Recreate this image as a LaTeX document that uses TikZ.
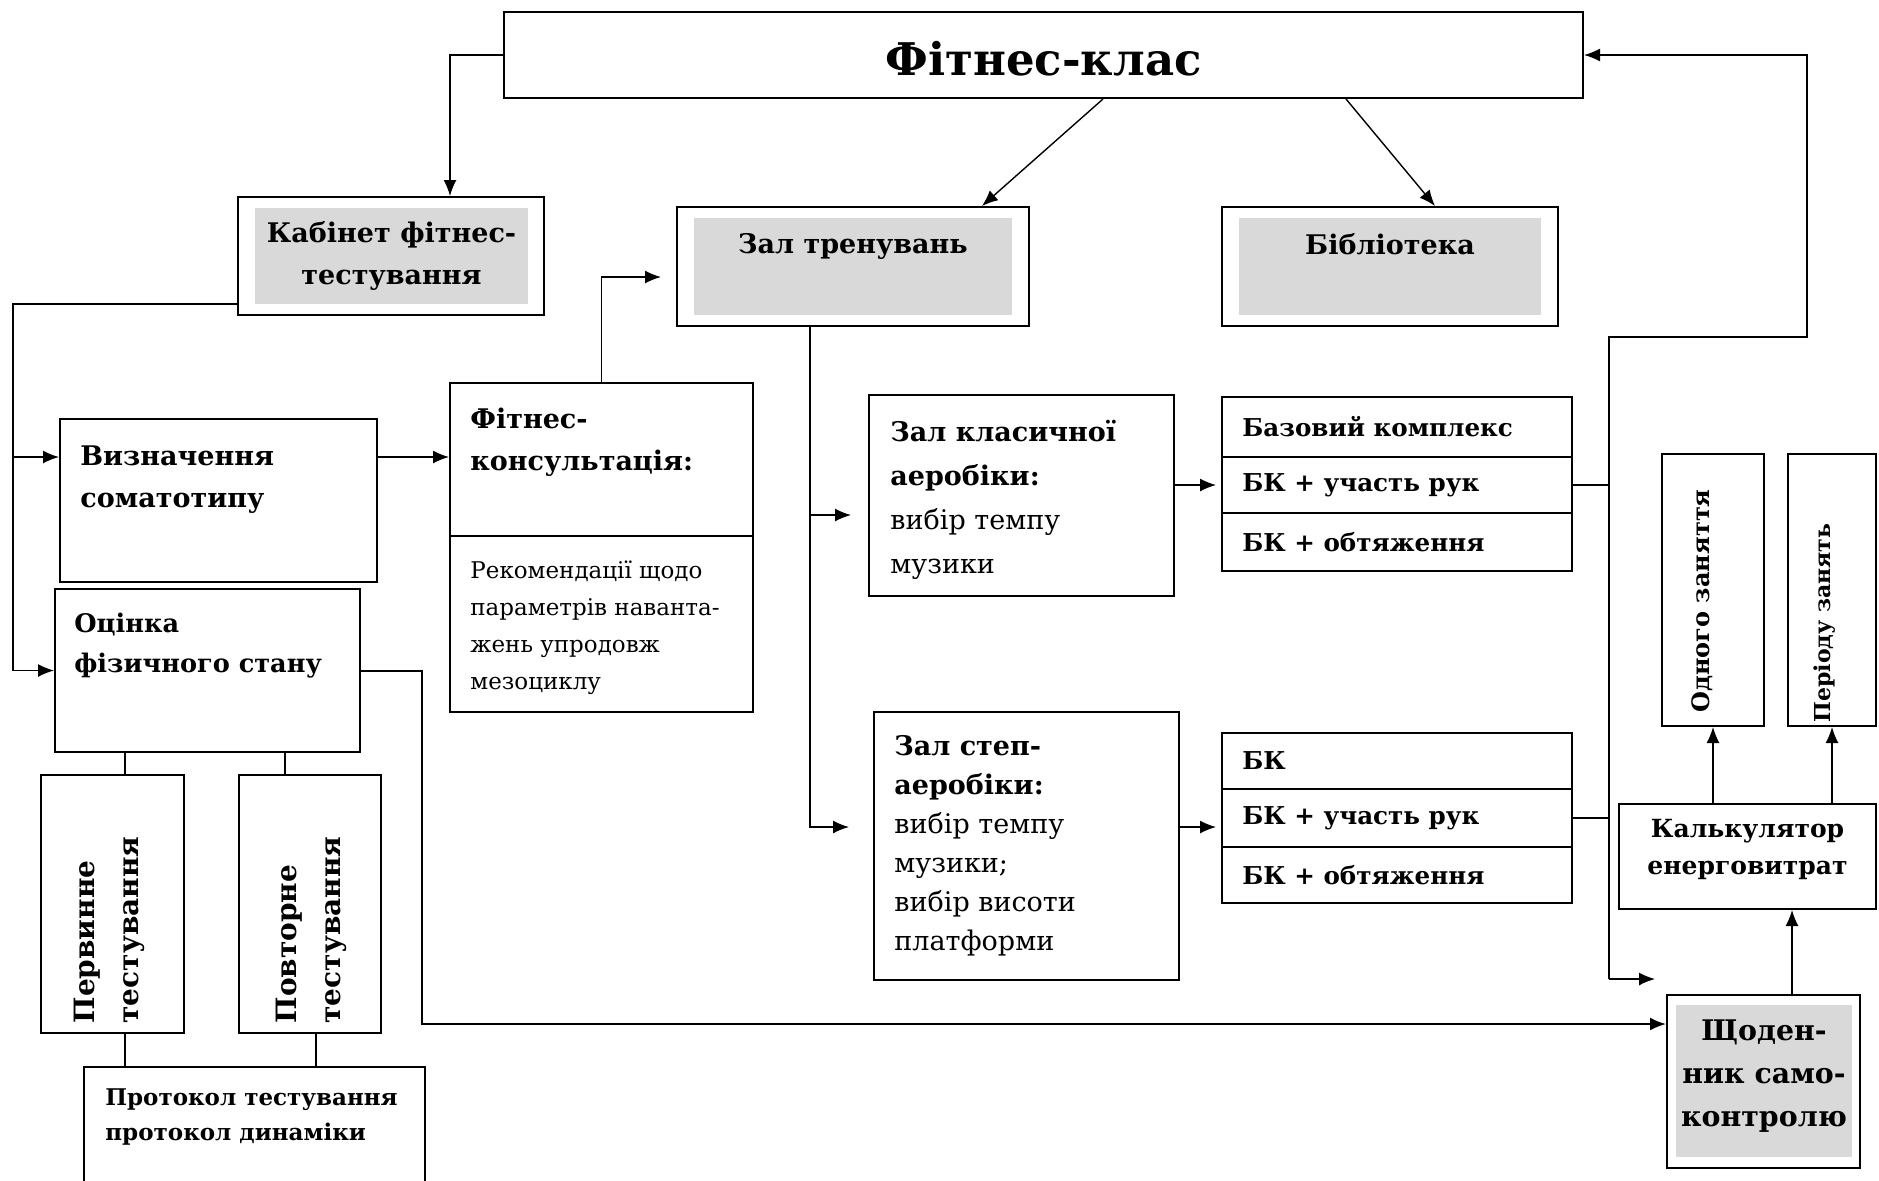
\documentclass[tikz,border=0pt]{standalone}
\usepackage{fontspec}
\setmainfont{DejaVu Serif}
\usetikzlibrary{arrows.meta,fit}
\definecolor{panel}{HTML}{D9D9D9}

\begin{document}
\begin{tikzpicture}[
    x=0.5pt, y=-0.5pt,
    box/.style={draw, rectangle, inner sep=0pt, line width=1pt},
    shade/.style={fill=panel, inner sep=0pt},
    head/.style={font=\bfseries\fontsize{13.5}{21}\selectfont, align=left, anchor=north west, inner sep=0pt},
    plain/.style={font=\fontsize{13.5}{22}\selectfont, align=left, anchor=north west, inner sep=0pt},
    row/.style={font=\bfseries\fontsize{12.3}{15}\selectfont, anchor=west, inner sep=0pt},
    line/.style={line width=0.7pt},
    arrow/.style={-{Latex[length=8pt,width=6.5pt]}, line width=0.7pt}
    ]
\useasboundingbox (0,0) rectangle (1879,1180);

% Top level
\node[box, fit={(504,12) (1583,98)}] (title) {};
\node[font=\bfseries\fontsize{22.5}{26}\selectfont] (titleTxt) at ([yshift=-2pt]title.center) {Фітнес-клас};

\node[box, fit={(238,197) (544,315)}] (kab) {};
\node[shade, fit={(255,208) (528,304)}] (kabIn) {};
\node[head, anchor=center, align=center] (kabTxt) at (kabIn.center) {Кабінет фітнес-\\тестування};

\node[box, fit={(677,207) (1029,326)}] (zal) {};
\node[shade, fit={(694,218) (1012,315)}] (zalIn) {};
\node[head, anchor=north] (zalTxt) at (853,233) {Зал тренувань};

\node[box, fit={(1222,207) (1558,326)}] (lib) {};
\node[shade, fit={(1239,218) (1541,315)}] (libIn) {};
\node[head, anchor=north] (libTxt) at (1390,233) {Бібліотека};

% Testing column
\node[box, fit={(60,419) (377,582)}] (vyz) {};
\node[head] (vyzTxt) at (80,445) {Визначення\\соматотипу};

\node[box, fit={(55,589) (360,752)}] (ots) {};
\node[head, font=\bfseries\fontsize{12.8}{20}\selectfont] (otsTxt) at (74,613) {Оцінка\\фізичного стану};

\node[box, fit={(41,775) (184,1033)}] (perv) {};
\node[head, font=\bfseries\fontsize{14}{22}\selectfont, rotate=90, anchor=center] (pervTxt) at (109,930) {Первинне\\тестування};
\node[box, fit={(239,775) (381,1033)}] (povt) {};
\node[head, font=\bfseries\fontsize{14}{22}\selectfont, rotate=90, anchor=center] (povtTxt) at (311,930) {Повторне\\тестування};

\node[box, fit={(84,1067) (425,1195)}] (prot) {};
\node[head, font=\bfseries\fontsize{11.5}{17.5}\selectfont] (protTxt) at (105,1088) {Протокол тестування\\протокол динаміки};

% Consultation
\node[box, fit={(450,383) (753,536)}] (consTop) {};
\node[box, fit={(450,536) (753,712)}] (consBot) {};
\node[head] (consTxt) at (470,408) {Фітнес-\\консультація:};
\node[plain, font=\fontsize{11.5}{18.5}\selectfont] (recTxt) at (470,560) {Рекомендації щодо\\параметрів наванта-\\жень упродовж\\мезоциклу};

% Halls
\node[box, fit={(869,395) (1174,596)}] (klas) {};
\node[plain] (klasTxt) at (890,420) {{\bfseries Зал класичної}\\{\bfseries аеробіки:}\\вибір темпу\\музики};

\node[box, fit={(874,712) (1179,980)}] (step) {};
\node[plain, font=\fontsize{13.5}{19.5}\selectfont] (stepTxt) at (894,735) {{\bfseries Зал степ-}\\{\bfseries аеробіки:}\\вибір темпу\\музики;\\вибір висоти\\платформи};

\node[box, fit={(1222,397) (1572,457)}] (a1) {};
\node[box, fit={(1222,457) (1572,513)}] (a2) {};
\node[box, fit={(1222,513) (1572,571)}] (a3) {};
\node[row] (a1Txt) at ([xshift=10.5pt]a1.west) {Базовий комплекс};
\node[row] (a2Txt) at ([xshift=10.5pt]a2.west) {БК + участь рук};
\node[row] (a3Txt) at ([xshift=10.5pt]a3.west) {БК + обтяження};

\node[box, fit={(1222,733) (1572,789)}] (b1) {};
\node[box, fit={(1222,789) (1572,847)}] (b2) {};
\node[box, fit={(1222,847) (1572,903)}] (b3) {};
\node[row] (b1Txt) at ([xshift=10.5pt]b1.west) {БК};
\node[row] (b2Txt) at ([xshift=10.5pt]b2.west) {БК + участь рук};
\node[row] (b3Txt) at ([xshift=10.5pt]b3.west) {БК + обтяження};

% Self-control
\node[box, fit={(1662,454) (1764,726)}] (odn) {};
\node[font=\bfseries\fontsize{12}{14}\selectfont, rotate=90] (odnTxt) at (1702,601) {Одного заняття};
\node[box, fit={(1788,454) (1876,726)}] (per) {};
\node[font=\bfseries\fontsize{11}{13}\selectfont, rotate=90] (perTxt) at (1825,623) {Періоду занять};

\node[box, fit={(1619,804) (1876,909)}] (kalk) {};
\node[head, anchor=center, align=center, font=\bfseries\fontsize{12.5}{18.5}\selectfont] (kalkTxt) at ([yshift=3.5pt]kalk.center) {Калькулятор\\енерговитрат};

\node[box, fit={(1667,995) (1860,1168)}] (diary) {};
\node[shade, fit={(1676,1005) (1852,1157)}] (diaryIn) {};
\node[head, anchor=center, align=center, font=\bfseries\fontsize{14.2}{21.5}\selectfont] (diaryTxt) at ([yshift=2.5pt]diaryIn.center) {Щоден-\\ник само-\\контролю};

% Helper points
\coordinate (leftBus) at (13,303);
\coordinate (busTop) at (1609,337);
\coordinate (busBot) at (1609,979);
\coordinate (fbRight) at (1807,337);
\coordinate (diaryTip) at (1655,979);
\coordinate (otsBus) at (422,670);
\coordinate (tapA) at (125,0);
\coordinate (tapB) at (285,0);
\coordinate (tapC) at (316,0);
\coordinate (tapD) at (1792,0);
\coordinate (vyzIn) at ([yshift=21.75pt]vyz.west);
\coordinate (zalIn) at ([yshift=-5.25pt]zal.west);
\coordinate (zalOut) at ([xshift=-21.5pt]zal.south);
\coordinate (klasIn) at ([yshift=-9.75pt]klas.west);
\coordinate (stepIn) at ([yshift=9.5pt]step.west);
\coordinate (diaryIn2) at ([yshift=28.75pt]diary.west);

% Arrows from the top
\draw[arrow] (title.west) -| ([xshift=29.5pt]kab.north);
\draw[arrow] ([xshift=29.75pt]title.south) -- ([xshift=64.5pt]zal.north);
\draw[arrow] ([xshift=151.25pt]title.south) -- ([xshift=22.5pt]lib.north);

% Testing branch
\draw[arrow] ([yshift=6pt]kab.south west) -| (leftBus |- ots.west) -- (ots.west);
\draw[arrow] (leftBus |- vyzIn) -- (vyzIn);
\draw[arrow] (vyzIn -| vyz.east) -- (vyzIn -| consTop.west);
\draw[arrow, shorten >=7.5pt] (consTop.north) |- (zalIn);
\draw[line] (tapA |- ots.south) -- (tapA |- perv.north);
\draw[line] (tapB |- ots.south) -- (tapB |- povt.north);
\draw[line] (tapA |- perv.south) -- (tapA |- prot.north);
\draw[line] (tapC |- povt.south) -- (tapC |- prot.north);
\draw[arrow, line width=1pt] (ots.east) -| (otsBus |- diaryIn2) -- (diaryIn2);

% Halls
\draw[arrow, shorten >=8.5pt] (zalOut |- klasIn) -- (klasIn);
\draw[arrow, shorten >=12pt] (zalOut) |- (stepIn);
\draw[arrow, shorten >=2.5pt] (klas.east |- a2.west) -- (a2.west);
\draw[arrow, shorten >=2.5pt] (stepIn -| step.east) -- (stepIn -| b2.west);

% Feedback
\draw[line] (a2.east) -- (a2.east -| busTop);
\draw[line] (b2.east) -- (b2.east -| busTop);
\draw[arrow] (busBot) -- (busTop) -- (fbRight) |- (title.east);
\draw[arrow] (busBot) -- (diaryTip);

% Calculator
\draw[arrow] (odn.south |- kalk.north) -- (odn.south);
\draw[arrow] (per.south |- kalk.north) -- (per.south);
\draw[arrow] (tapD |- diary.north) -- (tapD |- kalk.south);

\end{tikzpicture}
\end{document}
